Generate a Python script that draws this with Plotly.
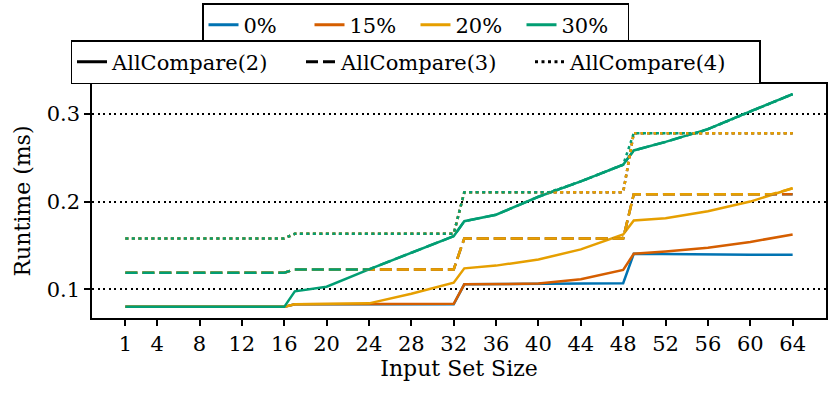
import plotly.graph_objects as go

# --- Data ---
sizes = [1, 4, 8, 12, 16, 17, 20, 24, 28, 32, 33, 36, 40, 44, 48, 49, 52, 56, 60, 64]

solid_0 = [0.080, 0.080, 0.080, 0.080, 0.080, 0.083, 0.083, 0.083, 0.083, 0.083,
           0.1057, 0.106, 0.106, 0.1065, 0.107, 0.1405, 0.140, 0.140, 0.1395, 0.1394]
solid_15 = [0.080, 0.080, 0.080, 0.080, 0.080, 0.083, 0.083, 0.083, 0.083, 0.0835,
            0.1057, 0.106, 0.1065, 0.1114, 0.122, 0.1405, 0.143, 0.1474, 0.154, 0.1625]
solid_20 = [0.080, 0.080, 0.080, 0.080, 0.080, 0.083, 0.0835, 0.084, 0.095, 0.1075,
            0.1239, 0.127, 0.134, 0.1455, 0.1625, 0.1784, 0.181, 0.189, 0.200, 0.2152]
solid_30 = [0.080, 0.080, 0.080, 0.080, 0.080, 0.0977, 0.103, 0.1227, 0.1417, 0.1606,
            0.1776, 0.185, 0.2055, 0.223, 0.242, 0.2583, 0.268, 0.2825, 0.3028, 0.3224]

step_sizes = [1, 16, 17, 32, 33, 48, 49, 64]
dashed_step = [0.119, 0.119, 0.1227, 0.1227, 0.158, 0.158, 0.2083, 0.2083]
dotted_step = [0.158, 0.158, 0.1633, 0.1633, 0.2106, 0.2106, 0.278, 0.278]

dashed_20_sizes = [1, 16, 17, 32, 33, 48, 49, 62, 64]
dashed_20 = [0.119, 0.119, 0.1227, 0.1227, 0.158, 0.158, 0.2083, 0.2083, 0.2152]

dashed_30_sizes = [1, 16, 17, 24, 28, 32, 33, 36, 40, 44, 48, 49, 52, 56, 60, 64]
dashed_30 = [0.119, 0.119, 0.1227, 0.1227, 0.1417, 0.1606, 0.1776, 0.185, 0.2055,
             0.223, 0.242, 0.2583, 0.268, 0.2825, 0.3028, 0.3224]

dotted_30_sizes = [1, 16, 17, 32, 33, 41, 44, 48, 49, 55, 56, 60, 64]
dotted_30 = [0.158, 0.158, 0.1633, 0.1633, 0.2106, 0.2106, 0.223, 0.242,
             0.278, 0.278, 0.2825, 0.3028, 0.3224]

x_ticks = [1, 4, 8, 12, 16, 20, 24, 28, 32, 36, 40, 44, 48, 52, 56, 60, 64]
y_ticks = [0.1, 0.2, 0.3]

rates = ["0%", "15%", "20%", "30%"]
methods = ["AllCompare(2)", "AllCompare(3)", "AllCompare(4)"]

# --- Style ---
COLORS = {"0%": "#0173B2", "15%": "#D55E00", "20%": "#E69F00", "30%": "#029E73"}
DASHES = {"AllCompare(2)": "solid", "AllCompare(3)": "12px,5px", "AllCompare(4)": "3px,3.5px"}
FONT = "DejaVu Serif"
LW = 2.5

series = {
    ("0%", "AllCompare(2)"): (sizes, solid_0),
    ("15%", "AllCompare(2)"): (sizes, solid_15),
    ("20%", "AllCompare(2)"): (sizes, solid_20),
    ("30%", "AllCompare(2)"): (sizes, solid_30),
    ("0%", "AllCompare(3)"): (step_sizes, dashed_step),
    ("15%", "AllCompare(3)"): (step_sizes, dashed_step),
    ("20%", "AllCompare(3)"): (dashed_20_sizes, dashed_20),
    ("30%", "AllCompare(3)"): (dashed_30_sizes, dashed_30),
    ("0%", "AllCompare(4)"): (step_sizes, dotted_step),
    ("15%", "AllCompare(4)"): (step_sizes, dotted_step),
    ("20%", "AllCompare(4)"): (step_sizes, dotted_step),
    ("30%", "AllCompare(4)"): (dotted_30_sizes, dotted_30),
}

fig = go.Figure()

for (rate, method), (xs, ys) in series.items():
    fig.add_trace(go.Scatter(
        x=xs, y=ys, mode="lines",
        line=dict(color=COLORS[rate], width=LW, dash=DASHES[method]),
        showlegend=False, hoverinfo="x+y"
    ))

# Legend-only entries
for rate in rates:
    fig.add_trace(go.Scatter(
        x=[None], y=[None], mode="lines", name=rate, legend="legend",
        line=dict(color=COLORS[rate], width=3)
    ))
for method in methods:
    fig.add_trace(go.Scatter(
        x=[None], y=[None], mode="lines", name=method, legend="legend2",
        line=dict(color="black", width=3, dash=DASHES[method])
    ))

legend_style = dict(
    orientation="h", xref="container", x=0.5, xanchor="center",
    yref="container", yanchor="top",
    bordercolor="black", borderwidth=1.5, bgcolor="white",
    font=dict(family=FONT, size=21, color="black"),
)

fig.update_layout(
    width=831, height=399,
    plot_bgcolor="white", paper_bgcolor="white",
    font=dict(family=FONT, size=22, color="black"),
    margin=dict(l=92, r=5, t=84, b=81, autoexpand=False),
    legend=dict(legend_style, y=1 - 3 / 399, entrywidth=61),
    legend2=dict(legend_style, y=1 - 40 / 399, entrywidth=184),
    xaxis=dict(
        range=[-2.15, 67.15], tickvals=x_ticks,
        ticks="outside", ticklen=6, tickwidth=1.5, tickcolor="black",
        showline=True, linecolor="black", linewidth=1.5, mirror=True,
        showgrid=False, zeroline=False,
        tickfont=dict(family=FONT, size=21),
        title=dict(text="Input Set Size", standoff=6, font=dict(size=22)),
    ),
    yaxis=dict(
        range=[0.0673, 0.334], tickvals=y_ticks, ticktext=["0.1", "0.2", "0.3"],
        ticks="outside", ticklen=6, tickwidth=1.5, tickcolor="black",
        showline=True, linecolor="black", linewidth=1.5, mirror=True,
        showgrid=True, gridcolor="black", gridwidth=1.5, griddash="2px,3.5px",
        zeroline=False,
        tickfont=dict(family=FONT, size=21),
        title=dict(text="Runtime (ms)", standoff=10, font=dict(size=22)),
    ),
)

# Drop the default page margin so the figure sits at the window origin
fig.write_html(
    "out.html",
    config={"displayModeBar": False},
    post_script="document.body.style.margin='0';",
)
